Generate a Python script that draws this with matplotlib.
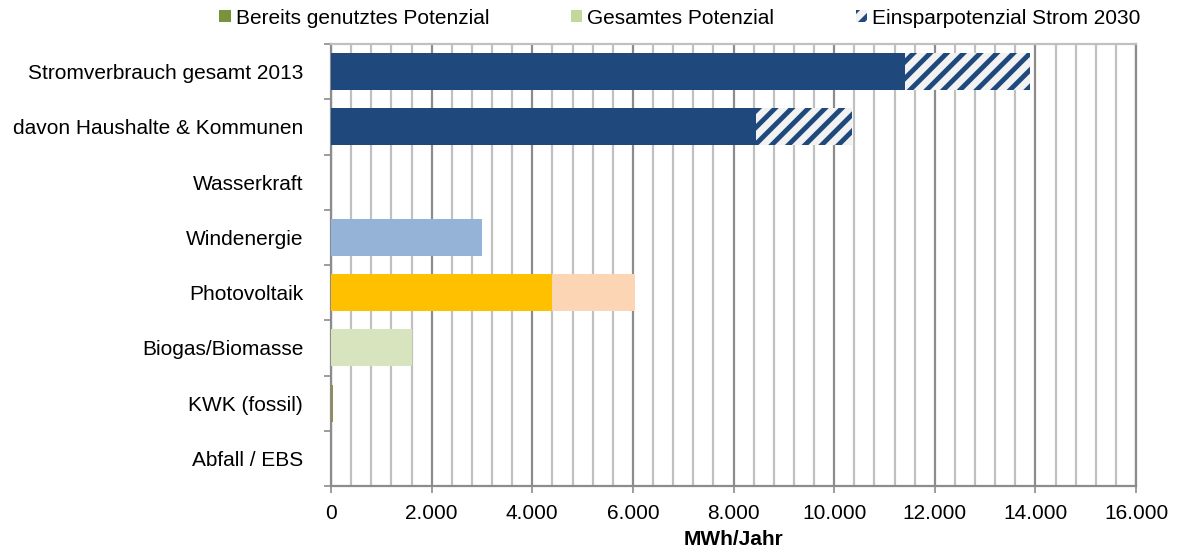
import numpy as np
import matplotlib.pyplot as plt
from matplotlib.patches import Patch
from matplotlib.ticker import MultipleLocator, FuncFormatter

plt.rcParams['font.family'] = ['Liberation Sans', 'DejaVu Sans']
plt.rcParams['hatch.linewidth'] = 3.5

# Daten (MWh/Jahr), von oben nach unten
kategorien = ["Stromverbrauch gesamt 2013", "davon Haushalte & Kommunen", "Wasserkraft",
              "Windenergie", "Photovoltaik", "Biogas/Biomasse", "KWK (fossil)", "Abfall / EBS"]
genutzt = [11400, 8450, 0, 0, 4400, 0, 40, 0]      # bereits genutzt / Verbrauch
potenzial = [2500, 1900, 0, 3000, 1650, 1600, 0, 0]  # Restpotenzial / Einsparung

farbe1 = ['#1F497D', '#1F497D', '#4F81BD', '#95B3D7', '#FFC000', '#D7E4BD', '#948A54', '#948A54']
farbe2 = ['#F2F2F2', '#F2F2F2', '#95B3D7', '#95B3D7', '#FCD5B5', '#D7E4BD', '#948A54', '#948A54']
schraffiert = [True, True, False, False, False, False, False, False]

fig = plt.figure(figsize=(11.79, 5.55), dpi=100)
ax = fig.add_axes([331/1179, 1-486/555, 805/1179, 442/555])

y = np.arange(len(kategorien))
ax.barh(y, genutzt, height=0.67, color=farbe1, linewidth=0, zorder=3)
for i in range(len(kategorien)):
    if schraffiert[i]:
        ax.barh(y[i], potenzial[i], left=genutzt[i], height=0.67, facecolor=farbe2[i],
                edgecolor='#1F497D', hatch='//', linewidth=0, zorder=3)
    else:
        ax.barh(y[i], potenzial[i], left=genutzt[i], height=0.67, color=farbe2[i],
                linewidth=0, zorder=3)

ax.set_xlim(0, 16000)
ax.set_ylim(len(kategorien)-0.5, -0.5)

# Gitter
ax.xaxis.set_major_locator(MultipleLocator(2000))
ax.xaxis.set_minor_locator(MultipleLocator(400))
ax.grid(axis='x', which='minor', color='#C0C0C0', linewidth=1.6, zorder=0)
ax.grid(axis='x', which='major', color='#8C8C8C', linewidth=1.6, zorder=0)
ax.set_axisbelow(True)
ax.xaxis.set_major_formatter(FuncFormatter(lambda v, p: f"{int(v):,}".replace(",", ".")))
ax.tick_params(axis='x', which='major', length=5, width=1.2, color='#8C8C8C', labelsize=15, pad=8)
ax.tick_params(axis='x', which='minor', length=0)

ax.set_yticks(np.arange(len(kategorien)+1)-0.5)
ax.set_yticklabels([])
ax.set_yticks(y, minor=True)
ax.set_yticklabels(kategorien, minor=True)
ax.tick_params(axis='y', which='major', length=5, width=1.2, color='#8C8C8C')
ax.tick_params(axis='y', which='minor', length=0, labelsize=15, pad=20)

for s in ['left', 'bottom', 'right']:
    ax.spines[s].set_color('#8C8C8C')
    ax.spines[s].set_linewidth(1.6)
ax.spines['top'].set_color('#C0C0C0')
ax.spines['top'].set_linewidth(1.6)

ax.set_xlabel("MWh/Jahr", fontsize=15, fontweight='bold', labelpad=5)

handles = [Patch(facecolor='#77933C', linewidth=0),
           Patch(facecolor='#C3D69B', linewidth=0),
           Patch(facecolor='#F2F2F2', edgecolor='#1F497D', hatch='//', linewidth=0)]
fig.legend(handles, ["Bereits genutztes Potenzial", "Gesamtes Potenzial", "Einsparpotenzial Strom 2030"],
           loc='center', bbox_to_anchor=(680/1179, 1-18/555), ncol=3, frameon=False,
           fontsize=15, handlelength=0.55, handleheight=0.55, handletextpad=0.25, columnspacing=3.9)

fig.savefig("out.png", dpi=100)
